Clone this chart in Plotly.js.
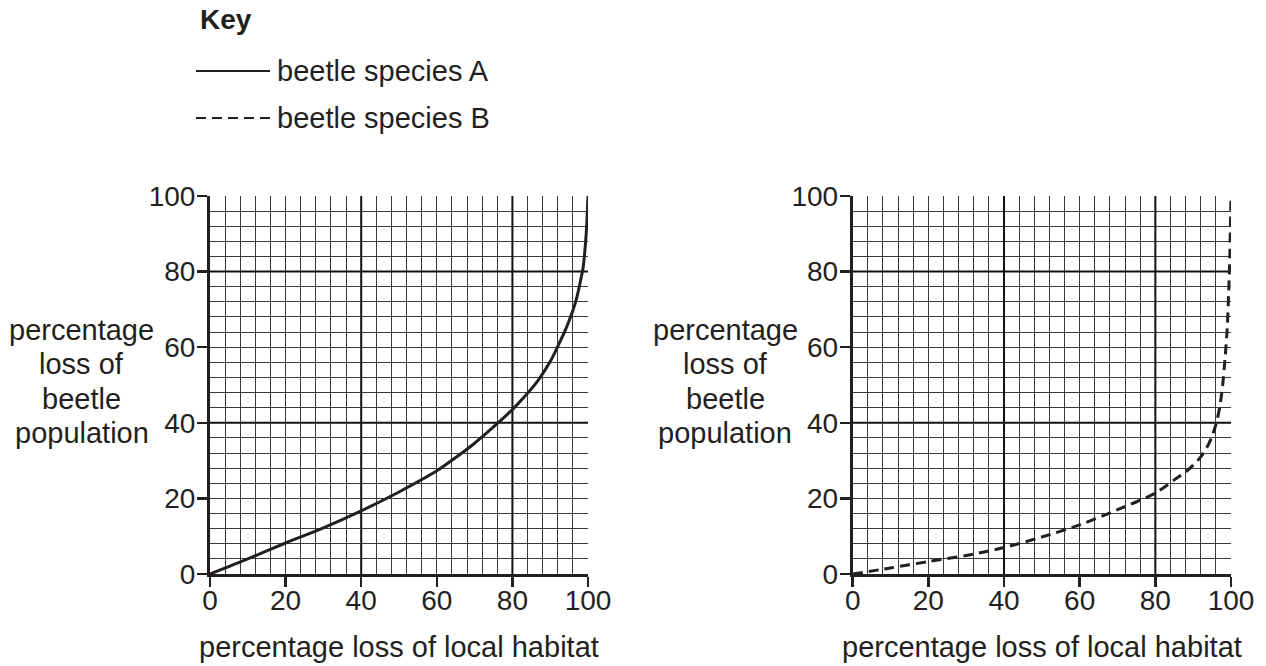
<!DOCTYPE html>
<html>
<head>
<meta charset="utf-8">
<script src="https://cdn.plot.ly/plotly-3.0.1.min.js"></script>
<style>html,body{margin:0;padding:0;background:#fff;}#chart{width:1266px;height:666px;}</style>
</head>
<body>
<div id="chart"></div>
<script>
// ---- data ----
var habitatA = [0, 10, 20, 30, 40, 50, 60, 65, 70, 75, 80, 84, 87, 90, 92, 94, 95, 96, 97, 98, 98.7, 99.3, 99.7, 100];
var beetleA  = [0, 4, 8.2, 12.2, 16.7, 21.7, 27.3, 30.8, 34.6, 38.9, 43.5, 47.8, 51.5, 56.2, 60.2, 64.5, 67, 69.7, 73, 77.5, 81, 87, 93, 100];
var habitatB = [0, 10, 20, 30, 40, 50, 60, 70, 80, 85, 88, 90, 92, 94, 95, 96, 97, 97.8, 98.5, 99, 99.4, 99.7, 100];
var beetleB  = [0, 1.6, 3.3, 4.9, 7.0, 9.8, 13, 17, 21.4, 24.9, 27, 28.8, 31, 34.2, 36.5, 39.5, 44, 50, 58, 65, 75, 85, 100];
var seriesNames = ["beetle species A", "beetle species B"];
var keyTitle = "Key";
var xTitle = "percentage loss of local habitat";
var yTitleLines = ["percentage", "loss of", "beetle", "population"];
var majorGrid = [40, 80];

// ---- styling ----
var W = 1266, H = 666;
function px(x){ return x / W; }
function py(y){ return (H - y) / H; }
var ink = '#231f20';
var FONT = 'Liberation Sans, Arial, Helvetica, sans-serif';

function axisCommon(domain, anchor, standoff){
  return {
    domain: domain, anchor: anchor, range: [0, 100], tick0: 0, dtick: 20,
    ticks: 'outside', ticklen: 10, tickwidth: 2.5, tickcolor: ink,
    ticklabelstandoff: standoff,
    showline: true, linewidth: 3, linecolor: ink,
    showgrid: true, gridcolor: '#3a3a3a', gridwidth: 1,
    minor: {dtick: 4, showgrid: true, gridcolor: '#3a3a3a', gridwidth: 1, ticks: ''},
    zeroline: false, fixedrange: true,
    tickfont: {family: FONT, size: 28, color: ink}
  };
}

var yDom = [py(574), py(196)];
var layout = {
  width: W, height: H,
  margin: {l: 0, r: 0, t: 0, b: 0},
  paper_bgcolor: '#fff', plot_bgcolor: '#fff',
  showlegend: false,
  xaxis: axisCommon([px(210), px(588)], 'y', -11),
  yaxis: axisCommon(yDom, 'x', -4),
  xaxis2: axisCommon([px(852.7), px(1231)], 'y2', -11),
  yaxis2: axisCommon(yDom, 'x2', -4),
  shapes: [],
  annotations: []
};

// heavier grid lines
[['x','y'],['x2','y2']].forEach(function(p){
  majorGrid.forEach(function(v){
    layout.shapes.push({type:'line', layer:'between', xref:p[0], yref:p[1], x0:v, x1:v, y0:0, y1:100, line:{color:'#111', width:2}});
    layout.shapes.push({type:'line', layer:'between', xref:p[0], yref:p[1], x0:0, x1:100, y0:v, y1:v, line:{color:'#111', width:2}});
  });
});

// key
layout.annotations.push({xref:'paper', yref:'paper', x:px(198), y:py(20), xanchor:'left', yanchor:'middle', showarrow:false,
  text:'<b>'+keyTitle+'</b>', font:{family:FONT, size:28, color:ink}});
layout.shapes.push({type:'line', xref:'paper', yref:'paper', x0:px(196), x1:px(270), y0:py(71), y1:py(71), line:{color:ink, width:2}});
layout.shapes.push({type:'line', xref:'paper', yref:'paper', x0:px(196), x1:px(270), y0:py(118), y1:py(118), line:{color:ink, width:2, dash:'10px,6px'}});
layout.annotations.push({xref:'paper', yref:'paper', x:px(275), y:py(71), xanchor:'left', yanchor:'middle', showarrow:false,
  text:seriesNames[0], font:{family:FONT, size:29, color:ink}});
layout.annotations.push({xref:'paper', yref:'paper', x:px(275), y:py(118), xanchor:'left', yanchor:'middle', showarrow:false,
  text:seriesNames[1], font:{family:FONT, size:29, color:ink}});

// axis titles
var yLineCenters = [329.5, 364, 398.7, 433.3];
[[82, 399], [725, 1042]].forEach(function(c){
  yTitleLines.forEach(function(t, i){
    layout.annotations.push({xref:'paper', yref:'paper', x:px(c[0]), y:py(yLineCenters[i]), xanchor:'center', yanchor:'middle',
      showarrow:false, text:t, font:{family:FONT, size:29, color:ink}});
  });
  layout.annotations.push({xref:'paper', yref:'paper', x:px(c[1]), y:py(647), xanchor:'center', yanchor:'middle',
    showarrow:false, text:xTitle, font:{family:FONT, size:29, color:ink}});
});

var traces = [
  {x: habitatA, y: beetleA, xaxis:'x', yaxis:'y', mode:'lines', name: seriesNames[0],
   line:{color:ink, width:3, shape:'spline', smoothing:0.8}, hoverinfo:'skip'},
  {x: habitatB, y: beetleB, xaxis:'x2', yaxis:'y2', mode:'lines', name: seriesNames[1],
   line:{color:ink, width:3, dash:'10px,6px', shape:'spline', smoothing:0.8}, hoverinfo:'skip'}
];

Plotly.newPlot('chart', traces, layout, {staticPlot:true, displayModeBar:false});
</script>
</body>
</html>
